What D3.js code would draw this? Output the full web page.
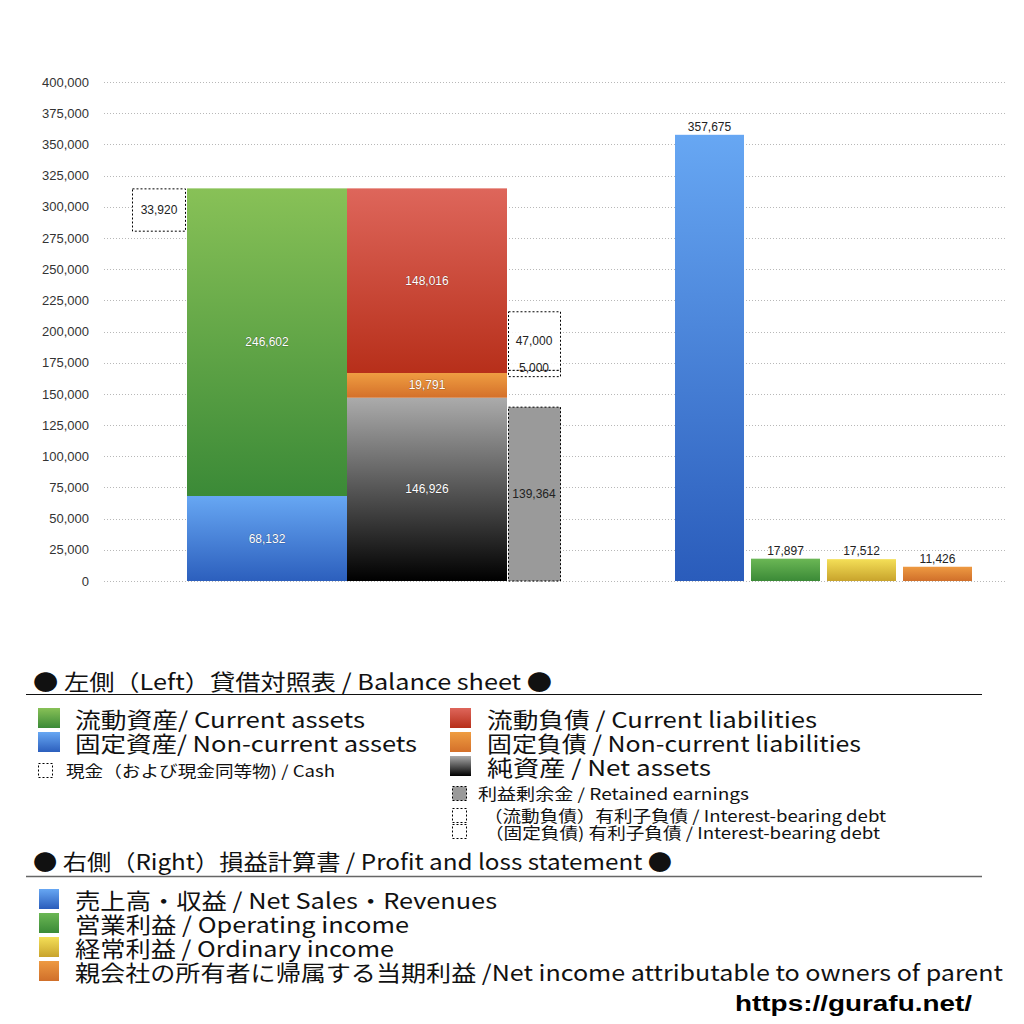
<!DOCTYPE html>
<html>
<head>
<meta charset="utf-8">
<script src="https://cdn.jsdelivr.net/npm/d3@7/dist/d3.min.js"></script>
<style>
  html, body { margin: 0; padding: 0; background: #fff; }
  svg { display: block; }
</style>
</head>
<body>
<svg id="chart" width="1024" height="1024"></svg>
<script>
// ---------- DATA ----------
const yTickValues = [0, 25000, 50000, 75000, 100000, 125000, 150000, 175000, 200000, 225000, 250000, 275000, 300000, 325000, 350000, 375000, 400000];

const bsColumns = ["assets", "liabilities"];
// assets, stacked bottom -> top
const assetKeys = ["nonCurrentAssets", "currentAssets"];
const assetValues = [68132, 246602];
// liabilities & net assets, stacked bottom -> top
const liabKeys = ["netAssets", "nonCurrentLiabilities", "currentLiabilities"];
const liabValues = [146926, 19791, 148016];

const cashValue = 33920;
const retainedEarningsValue = 139364;
// interest-bearing debt: [non-current, current]
const debtValues = [5000, 47000];

const plCategories = ["sales", "operatingIncome", "ordinaryIncome", "netIncome"];
const plValues = [357675, 17897, 17512, 11426];

const title1 = "● 左側（Left）貸借対照表 / Balance sheet ●";
const title2 = "● 右側（Right）損益計算書 / Profit and loss statement ●";
const bsLegendLeft = ["流動資産/ Current assets", "固定資産/ Non-current assets"];
const bsLegendLeftKeys = ["currentAssets", "nonCurrentAssets"];
const cashLegend = "現金（および現金同等物) / Cash";
const bsLegendRight = ["流動負債 /  Current liabilities", "固定負債 / Non-current liabilities", "純資産 / Net assets"];
const bsLegendRightKeys = ["currentLiabilities", "nonCurrentLiabilities", "netAssets"];
const bsSmallLegend = ["利益剰余金 / Retained earnings", "（流動負債）有利子負債 / Interest-bearing debt", "（固定負債) 有利子負債 / Interest-bearing debt"];
const plLegend = ["売上高・収益 / Net Sales・Revenues", "営業利益 / Operating income", "経常利益 / Ordinary income", "親会社の所有者に帰属する当期利益 /Net income attributable to owners of parent"];
const sourceText = "https://gurafu.net/";

// ---------- STYLE ----------
const gradients = {
  currentAssets: ["#88c157", "#3b8a37"],
  nonCurrentAssets: ["#67a7f3", "#2c5fbd"],
  currentLiabilities: ["#de665b", "#b72f1a"],
  nonCurrentLiabilities: ["#ef9d41", "#d4702a"],
  netAssets: ["#ababab", "#000000"],
  sales: ["#67a7f3", "#2a5cbb"],
  operatingIncome: ["#6bb755", "#3b8a37"],
  ordinaryIncome: ["#f4df57", "#c8a32c"],
  netIncome: ["#ee9a42", "#d06f2a"]
};
const fontJP = "'Noto Sans CJK JP', 'Noto Sans', sans-serif";
const fontNum = "'Liberation Sans', Arial, sans-serif";

const svg = d3.select("#chart");
const defs = svg.append("defs");
Object.entries(gradients).forEach(([k, c]) => {
  const g = defs.append("linearGradient").attr("id", "g-" + k)
    .attr("x1", 0).attr("y1", 0).attr("x2", 0).attr("y2", 1);
  g.append("stop").attr("offset", "0%").attr("stop-color", c[0]);
  g.append("stop").attr("offset", "100%").attr("stop-color", c[1]);
});

// ---------- SCALES ----------
const y = d3.scaleLinear().domain([0, 400000]).range([581, 82]);
const xL = d3.scaleBand().domain(bsColumns).range([187, 507]).padding(0);
const xR = d3.scaleBand().domain(plCategories).range([675, 972]).paddingInner(7 / 76).paddingOuter(0);

// ---------- GRID + AXIS ----------
const yAxis = d3.axisLeft(y).tickValues(yTickValues).tickSize(0).tickPadding(0)
  .tickFormat(d3.format(","));
const axisG = svg.append("g").attr("transform", "translate(89,0)").call(yAxis);
axisG.select(".domain").remove();
axisG.selectAll("text").attr("font-family", fontNum).attr("font-size", 13).attr("fill", "#333");

svg.append("g").selectAll("line").data(yTickValues).join("line")
  .attr("x1", 104).attr("x2", 1006)
  .attr("y1", d => Math.round(y(d)) + 0.5).attr("y2", d => Math.round(y(d)) + 0.5)
  .attr("stroke", "#b8b8b8").attr("stroke-width", 1).attr("stroke-dasharray", "1,2");

// ---------- BALANCE SHEET ----------
function stack(keys, values) {
  let acc = 0;
  return keys.map((k, i) => { const s = { key: k, value: values[i], y0: acc, y1: acc + values[i] }; acc += values[i]; return s; });
}
const assetStack = stack(assetKeys, assetValues);
const liabStack = stack(liabKeys, liabValues);

const bsG = svg.append("g");
[["assets", assetStack], ["liabilities", liabStack]].forEach(([col, st]) => {
  bsG.selectAll(null).data(st).join("rect")
    .attr("x", xL(col)).attr("width", xL.bandwidth())
    .attr("y", d => y(d.y1)).attr("height", d => y(d.y0) - y(d.y1))
    .attr("fill", d => `url(#g-${d.key})`);
  bsG.selectAll(null).data(st).join("text")
    .attr("x", xL(col) + xL.bandwidth() / 2)
    .attr("y", d => y((d.y0 + d.y1) / 2))
    .attr("text-anchor", "middle").attr("dominant-baseline", "central")
    .attr("font-family", fontNum).attr("font-size", 12).attr("fill", "#fff")
    .style("paint-order", "stroke").attr("stroke", "rgba(0,0,0,0.25)").attr("stroke-width", 1)
    .text(d => d3.format(",")(d.value));
});

const dash = "2,2";
// cash box at top of assets
const assetsTotal = d3.sum(assetValues);
const cashX = xL("assets") - 55;
svg.append("rect")
  .attr("x", cashX + 0.5).attr("y", y(assetsTotal) + 0.5)
  .attr("width", 53).attr("height", y(assetsTotal - cashValue) - y(assetsTotal))
  .attr("fill", "#fff").attr("stroke", "#000").attr("stroke-dasharray", dash);
svg.append("text")
  .attr("x", cashX + 27).attr("y", y(assetsTotal - cashValue / 2))
  .attr("text-anchor", "middle").attr("dominant-baseline", "central")
  .attr("font-family", fontNum).attr("font-size", 12).attr("fill", "#222")
  .text(d3.format(",")(cashValue));

// side column (retained earnings + interest-bearing debt)
const sideX = xL("liabilities") + xL.bandwidth() + 1;
svg.append("rect")
  .attr("x", sideX + 0.5).attr("y", y(retainedEarningsValue))
  .attr("width", 52).attr("height", y(0) - y(retainedEarningsValue))
  .attr("fill", "#9a9a9a").attr("stroke", "#000").attr("stroke-dasharray", dash);
svg.append("text")
  .attr("x", sideX + 26).attr("y", y(retainedEarningsValue / 2))
  .attr("text-anchor", "middle").attr("dominant-baseline", "central")
  .attr("font-family", fontNum).attr("font-size", 12).attr("fill", "#222")
  .text(d3.format(",")(retainedEarningsValue));

const debtBase = liabValues[0] + liabValues[1] - debtValues[0] / 2;
const debtStack = stack(["nc", "c"], debtValues).map(d => ({ ...d, y0: d.y0 + debtBase, y1: d.y1 + debtBase }));
svg.append("g").selectAll("rect").data(debtStack.slice().reverse()).join("rect")
  .attr("x", sideX + 0.5).attr("y", d => y(d.y1) + 0.5)
  .attr("width", 52).attr("height", d => y(d.y0) - y(d.y1))
  .attr("fill", "#fff").attr("fill-opacity", 0.85).attr("stroke", "#000").attr("stroke-dasharray", dash);
svg.append("g").selectAll("text").data(debtStack).join("text")
  .attr("x", sideX + 26)
  .attr("y", d => d.key === "nc" ? y(d.y1) - 2 : y((d.y0 + d.y1) / 2))
  .attr("text-anchor", "middle").attr("dominant-baseline", "central")
  .attr("font-family", fontNum).attr("font-size", 12).attr("fill", "#222")
  .text(d => d3.format(",")(d.value));

// ---------- PROFIT & LOSS ----------
const plG = svg.append("g");
plG.selectAll("rect").data(plCategories).join("rect")
  .attr("x", d => xR(d)).attr("width", xR.bandwidth())
  .attr("y", (d, i) => y(plValues[i])).attr("height", (d, i) => y(0) - y(plValues[i]))
  .attr("fill", d => `url(#g-${d})`);
plG.selectAll("text").data(plCategories).join("text")
  .attr("x", d => xR(d) + xR.bandwidth() / 2)
  .attr("y", (d, i) => y(plValues[i]) - 8)
  .attr("text-anchor", "middle").attr("dominant-baseline", "central")
  .attr("font-family", fontNum).attr("font-size", 12).attr("fill", "#222")
  .text((d, i) => d3.format(",")(plValues[i]));

// ---------- LEGEND ----------
function txt(x, yy, s, size, width, opts = {}) {
  const t = svg.append("text").attr("x", x).attr("y", yy)
    .attr("dominant-baseline", "central")
    .attr("font-family", opts.family || fontJP).attr("font-size", size)
    .attr("font-weight", opts.weight || "normal")
    .attr("fill", opts.fill || "#111").text(s);
  if (width) t.attr("textLength", width).attr("lengthAdjust", "spacingAndGlyphs");
  return t;
}
function swatch(x, yy, w, h, key) {
  svg.append("rect").attr("x", x).attr("y", yy).attr("width", w).attr("height", h).attr("fill", `url(#g-${key})`);
}
function dashSwatch(x, yy, w, h, fill) {
  svg.append("rect").attr("x", x + 0.5).attr("y", yy + 0.5).attr("width", w).attr("height", h)
    .attr("fill", fill).attr("stroke", "#000").attr("stroke-dasharray", dash);
}

txt(33, 680, title1, 22, 519);
svg.append("line").attr("x1", 26).attr("x2", 982).attr("y1", 694.5).attr("y2", 694.5).attr("stroke", "#111").attr("stroke-width", 1.2);

const leftWidths = [290, 342];
bsLegendLeft.forEach((s, i) => {
  swatch(38, 708 + i * 24, 22, 20, bsLegendLeftKeys[i]);
  txt(75, 718 + i * 24, s, 22, leftWidths[i]);
});
dashSwatch(38, 763, 14, 14, "#fff");
txt(66, 770, cashLegend, 16, 269);

const rightWidths = [330, 374, 224];
bsLegendRight.forEach((s, i) => {
  swatch(450, 708 + i * 24, 21, 20, bsLegendRightKeys[i]);
  txt(487, 718 + i * 24, s, 22, rightWidths[i]);
});
dashSwatch(452, 786, 14, 14, "#9a9a9a");
txt(478, 793, bsSmallLegend[0], 16, 271);
dashSwatch(452, 808, 14, 14, "#fff");
txt(484, 815, bsSmallLegend[1], 16, 402);
dashSwatch(452, 824, 14, 14, "#fff");
txt(485, 832, bsSmallLegend[2], 16, 395);

txt(33, 860, title2, 22, 639);
svg.append("line").attr("x1", 26).attr("x2", 982).attr("y1", 876.5).attr("y2", 876.5).attr("stroke", "#666").attr("stroke-width", 1.5);

const plWidths = [422, 334, 319, 928];
plLegend.forEach((s, i) => {
  swatch(39, 889 + i * 24, 20, 20, plCategories[i]);
  txt(75, 899 + i * 24, s, 22, plWidths[i]);
});

txt(735, 1003, sourceText, 22, 237, { family: "'Liberation Sans', Arial, sans-serif", weight: "bold", fill: "#000" });
</script>
</body>
</html>
